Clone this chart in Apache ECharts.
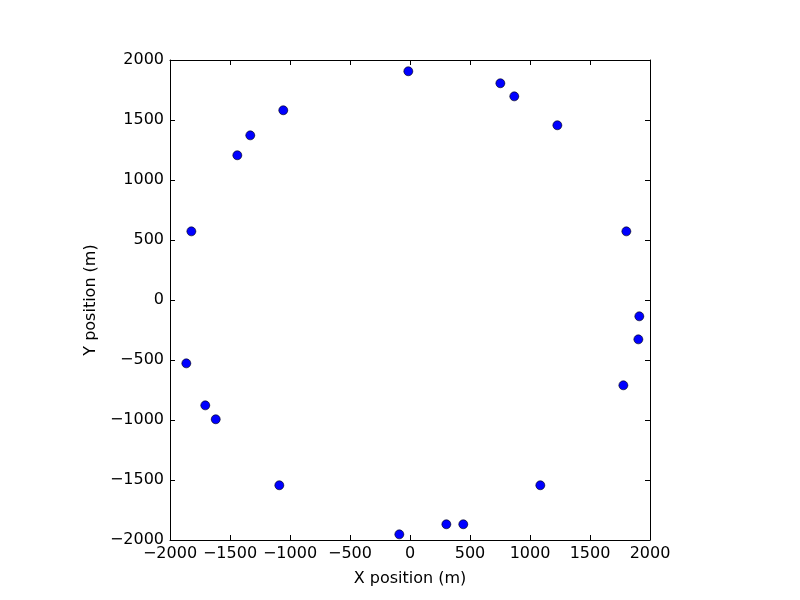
<!DOCTYPE html>
<html><head><meta charset="utf-8">
<script src="https://cdn.jsdelivr.net/npm/echarts@6/dist/echarts.min.js"></script>
<style>html,body{margin:0;padding:0;background:#fff}#c{width:800px;height:600px}</style>
</head><body><div id="c"></div>
<script>
const xValues = [-14, 753, 869, 1228, -1056, -1331, -1439, -1822, 1803, 1911, 1903, 1778, -1864, -1706, -1619, -1089, 1086, -89, 303, 444];
const yValues = [1906, 1806, 1697, 1456, 1581, 1372, 1206, 572, 572, -136, -328, -711, -528, -878, -994, -1544, -1544, -1953, -1869, -1869];
const xLabel = 'X position (m)';
const yLabel = 'Y position (m)';
const axisMin = -2000, axisMax = 2000, axisStep = 500;

const pts = xValues.map((x, i) => [x, yValues[i]]);
const fmt = v => (v < 0 ? '\u2212' + Math.abs(v) : String(v));
const font = 'DejaVu Sans';
function axisBase(show) {
  return {
    type: 'value', min: axisMin, max: axisMax, interval: axisStep,
    axisLine: { show: true, onZero: false, lineStyle: { color: '#000', width: 1 } },
    axisTick: { show: true, inside: true, length: 5, lineStyle: { color: '#000', width: 1 } },
    axisLabel: { show: show, color: '#000', fontFamily: font, fontSize: 16, formatter: fmt, margin: 6 },
    splitLine: { show: false }
  };
}
const chart = echarts.init(document.getElementById('c'), null, { renderer: 'canvas' });
chart.setOption({
  animation: false,
  backgroundColor: '#fff',
  grid: { left: 170, top: 60, width: 480, height: 480, containLabel: false },
  xAxis: [
    Object.assign(axisBase(true), { position: 'bottom', name: xLabel, nameLocation: 'middle', nameGap: 31,
      nameTextStyle: { color: '#000', fontFamily: font, fontSize: 16 } }),
    Object.assign(axisBase(false), { position: 'top' })
  ],
  yAxis: [
    Object.assign(axisBase(true), { position: 'left', name: yLabel, nameLocation: 'middle', nameGap: 66,
      nameTextStyle: { color: '#000', fontFamily: font, fontSize: 16 } }),
    Object.assign(axisBase(false), { position: 'right' })
  ],
  series: [{
    type: 'scatter', xAxisIndex: 0, yAxisIndex: 0, data: pts,
    symbol: 'circle', symbolSize: 9,
    itemStyle: { color: '#0000ff', borderColor: '#000', borderWidth: 0.6, opacity: 1 }
  }]
});
</script></body></html>
